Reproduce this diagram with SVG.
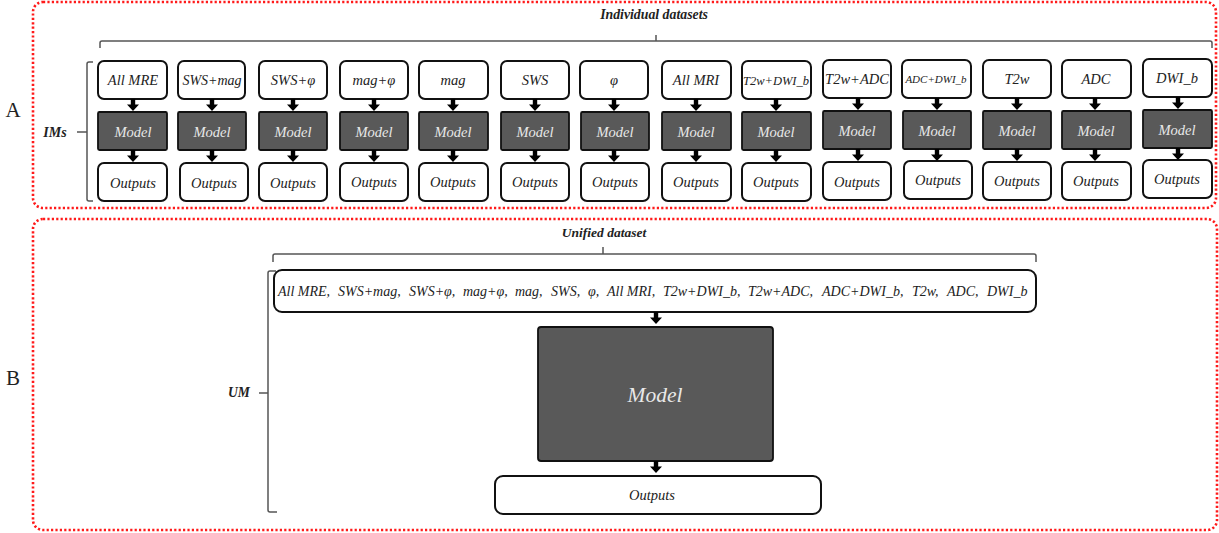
<svg xmlns="http://www.w3.org/2000/svg" width="1219" height="533" viewBox="0 0 1219 533">
<style>
.frame{fill:none;stroke:#ff1a1a;stroke-width:2.6;stroke-dasharray:2.2 2.2}
.in{fill:#fff;stroke:#111;stroke-width:2}
.mdl{fill:#595959;stroke:#111;stroke-width:1.8}
.t{font-family:'Liberation Serif',serif;font-style:italic;font-size:14.5px;fill:#222;text-anchor:middle}
.tm{font-family:'Liberation Serif',serif;font-style:italic;font-size:14.5px;fill:#e8e8e8;text-anchor:middle}
.lbl{font-family:'Liberation Serif',serif;font-style:italic;font-weight:bold;font-size:13.8px;fill:#222;text-anchor:middle}
.big{font-family:'Liberation Serif',serif;font-size:21px;fill:#222;text-anchor:middle}
.brace{fill:none;stroke:#555;stroke-width:1.5}
.arr{fill:#000}
</style>
<defs>
<path id="ar" class="arr" d="M-2.2,0 H2.2 V5.5 H6 L0,12 L-6,5.5 H-2.2 Z"/>
</defs>

<!-- frames -->
<g id="frameA">
<rect class="frame" x="33" y="2" width="1183" height="206" rx="10"/>
<text class="big" x="13" y="117">A</text>
</g>
<g id="frameB">
<rect class="frame" x="33" y="219" width="1184" height="311" rx="10"/>
<text class="big" x="13" y="385">B</text>
</g>

<!-- braces -->
<g id="braceA">
<path class="brace" d="M100,48 V43 Q100,41 102,41 H1210 Q1212,41 1212,43 V48 M656,41 V35"/>
<text class="lbl" x="654" y="19">Individual datasets</text>
<path class="brace" d="M93,62 H89 Q87,62 87,64 V199 Q87,201 89,201 H93 M87,132 H77"/>
<text class="lbl" x="55" y="137" style="font-size:14px">IMs</text>
</g>
<g id="braceB">
<path class="brace" d="M273,262 V256 Q273,254 275,254 H1034 Q1036,254 1036,256 V262 M603,254 V247"/>
<text class="lbl" x="604" y="237" style="font-size:13.5px">Unified dataset</text>
<path class="brace" d="M276,271 H270 Q268,271 268,273 V510 Q268,512 270,512 H277 M268,393 H259"/>
<text class="lbl" x="239" y="397" style="font-size:13.6px">UM</text>
</g>

<!-- section A nodes -->
<g id="c1"><rect class="in" x="98" y="61" width="69" height="38" rx="6"/><text class="t" x="133" y="85">All MRE</text>
<rect class="mdl" x="98" y="112" width="69" height="38" rx="1.5"/><text class="tm" x="133" y="137">Model</text>
<rect class="in" x="98" y="163" width="69" height="38" rx="6"/><text class="t" x="133" y="188">Outputs</text></g>
<g id="c2"><rect class="in" x="178" y="61" width="67" height="38" rx="6"/><text class="t" x="212" y="85" style="font-size:14px">SWS+mag</text>
<rect class="mdl" x="178" y="112" width="68" height="38" rx="1.5"/><text class="tm" x="212" y="137">Model</text>
<rect class="in" x="180" y="163" width="68" height="38" rx="6"/><text class="t" x="214" y="188">Outputs</text></g>
<g id="c3"><rect class="in" x="259" y="61" width="68" height="38" rx="6"/><text class="t" x="293" y="85">SWS+φ</text>
<rect class="mdl" x="259" y="112" width="68" height="38" rx="1.5"/><text class="tm" x="293" y="137">Model</text>
<rect class="in" x="259" y="163" width="68" height="38" rx="6"/><text class="t" x="293" y="188">Outputs</text></g>
<g id="c4"><rect class="in" x="340" y="61" width="68" height="38" rx="6"/><text class="t" x="374" y="85">mag+φ</text>
<rect class="mdl" x="340" y="112" width="68" height="38" rx="1.5"/><text class="tm" x="374" y="137">Model</text>
<rect class="in" x="340" y="163" width="68" height="38" rx="6"/><text class="t" x="374" y="187">Outputs</text></g>
<g id="c5"><rect class="in" x="419" y="61" width="69" height="38" rx="6"/><text class="t" x="453" y="85">mag</text>
<rect class="mdl" x="419" y="112" width="69" height="38" rx="1.5"/><text class="tm" x="453" y="137">Model</text>
<rect class="in" x="419" y="163" width="69" height="38" rx="6"/><text class="t" x="453" y="187">Outputs</text></g>
<g id="c6"><rect class="in" x="501" y="61" width="68" height="38" rx="6"/><text class="t" x="535" y="85">SWS</text>
<rect class="mdl" x="501" y="112" width="68" height="38" rx="1.5"/><text class="tm" x="535" y="137">Model</text>
<rect class="in" x="501" y="163" width="68" height="38" rx="6"/><text class="t" x="535" y="187">Outputs</text></g>
<g id="c7"><rect class="in" x="580" y="61" width="68" height="38" rx="6"/><text class="t" x="614" y="85">φ</text>
<rect class="mdl" x="581" y="112" width="68" height="38" rx="1.5"/><text class="tm" x="615" y="137">Model</text>
<rect class="in" x="581" y="163" width="68" height="38" rx="6"/><text class="t" x="615" y="187">Outputs</text></g>
<g id="c8"><rect class="in" x="662" y="61" width="69" height="38" rx="6"/><text class="t" x="696" y="85">All MRI</text>
<rect class="mdl" x="662" y="112" width="69" height="38" rx="1.5"/><text class="tm" x="696" y="137">Model</text>
<rect class="in" x="662" y="163" width="69" height="38" rx="6"/><text class="t" x="696" y="187">Outputs</text></g>
<g id="c9"><rect class="in" x="742" y="61" width="69" height="38" rx="6"/><text class="t" x="776" y="85" style="font-size:12.5px">T2w+DWI_b</text>
<rect class="mdl" x="742" y="112" width="69" height="38" rx="1.5"/><text class="tm" x="776" y="137">Model</text>
<rect class="in" x="742" y="163" width="69" height="38" rx="6"/><text class="t" x="776" y="187">Outputs</text></g>
<g id="c10"><rect class="in" x="823" y="60" width="68" height="38" rx="6"/><text class="t" x="857" y="84">T2w+ADC</text>
<rect class="mdl" x="823" y="111" width="68" height="38" rx="1.5"/><text class="tm" x="857" y="136">Model</text>
<rect class="in" x="823" y="162" width="68" height="38" rx="6"/><text class="t" x="857" y="187">Outputs</text></g>
<g id="c11"><rect class="in" x="902" y="60" width="69" height="38" rx="6"/><text class="t" x="936" y="83" style="font-size:11px">ADC+DWI_b</text>
<rect class="mdl" x="903" y="111" width="68" height="38" rx="1.5"/><text class="tm" x="937" y="136">Model</text>
<rect class="in" x="904" y="161" width="68" height="38" rx="6"/><text class="t" x="938" y="185">Outputs</text></g>
<g id="c12"><rect class="in" x="983" y="60" width="68" height="38" rx="6"/><text class="t" x="1017" y="84">T2w</text>
<rect class="mdl" x="983" y="111" width="68" height="38" rx="1.5"/><text class="tm" x="1017" y="136">Model</text>
<rect class="in" x="983" y="162" width="68" height="38" rx="6"/><text class="t" x="1017" y="186">Outputs</text></g>
<g id="c13"><rect class="in" x="1062" y="60" width="69" height="38" rx="6"/><text class="t" x="1096" y="84">ADC</text>
<rect class="mdl" x="1062" y="111" width="69" height="38" rx="1.5"/><text class="tm" x="1096" y="136">Model</text>
<rect class="in" x="1062" y="162" width="69" height="38" rx="6"/><text class="t" x="1096" y="186">Outputs</text></g>
<g id="c14"><rect class="in" x="1143" y="59" width="69" height="38" rx="6"/><text class="t" x="1177" y="83">DWI_b</text>
<rect class="mdl" x="1143" y="110" width="69" height="38" rx="1.5"/><text class="tm" x="1177" y="135">Model</text>
<rect class="in" x="1143" y="160" width="69" height="38" rx="6"/><text class="t" x="1177" y="184">Outputs</text></g>

<!-- section B nodes -->
<g id="uIn"><rect class="in" x="274" y="270" width="762" height="42" rx="8"/>
<text class="t" y="296" style="font-size:14px;text-anchor:start"><tspan x="278">All MRE,</tspan><tspan x="338">SWS+mag,</tspan><tspan x="409">SWS+φ,</tspan><tspan x="463">mag+φ,</tspan><tspan x="515">mag,</tspan><tspan x="551">SWS,</tspan><tspan x="588">φ,</tspan><tspan x="607">All MRI,</tspan><tspan x="663">T2w+DWI_b,</tspan><tspan x="748">T2w+ADC,</tspan><tspan x="822">ADC+DWI_b,</tspan><tspan x="912">T2w,</tspan><tspan x="947">ADC,</tspan><tspan x="987">DWI_b</tspan></text></g>
<g id="uModel"><rect class="mdl" x="538" y="327" width="235" height="134" rx="3"/>
<text class="tm" x="655" y="402" style="font-size:21.5px">Model</text></g>
<g id="uOut"><rect class="in" x="495" y="476" width="326" height="38" rx="8"/>
<text class="t" x="652" y="500">Outputs</text></g>

<!-- connectors -->
<g id="connectors">
<use href="#ar" x="133" y="99"/><use href="#ar" x="133" y="150"/>
<use href="#ar" x="212" y="99"/><use href="#ar" x="212" y="150"/>
<use href="#ar" x="293" y="99"/><use href="#ar" x="293" y="150"/>
<use href="#ar" x="374" y="99"/><use href="#ar" x="374" y="150"/>
<use href="#ar" x="453" y="99"/><use href="#ar" x="453" y="150"/>
<use href="#ar" x="535" y="99"/><use href="#ar" x="535" y="150"/>
<use href="#ar" x="614" y="99"/><use href="#ar" x="614" y="150"/>
<use href="#ar" x="696" y="99"/><use href="#ar" x="696" y="150"/>
<use href="#ar" x="776" y="99"/><use href="#ar" x="776" y="150"/>
<use href="#ar" x="858" y="98"/><use href="#ar" x="858" y="149"/>
<use href="#ar" x="937" y="98"/><use href="#ar" x="937" y="149"/>
<use href="#ar" x="1017" y="98"/><use href="#ar" x="1017" y="149"/>
<use href="#ar" x="1095" y="98"/><use href="#ar" x="1095" y="149"/>
<use href="#ar" x="1178" y="97"/><use href="#ar" x="1178" y="148"/>
<use href="#ar" x="656" y="312"/>
<use href="#ar" x="656" y="461"/>
</g>
</svg>
